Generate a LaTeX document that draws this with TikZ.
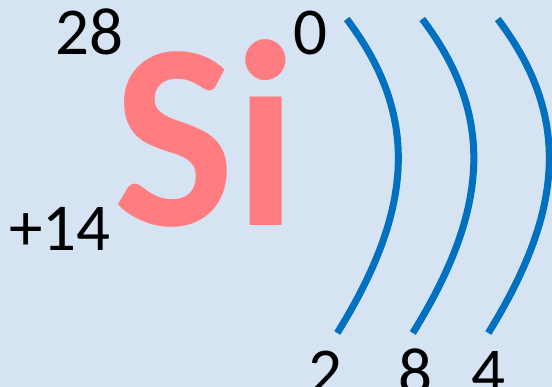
\documentclass[tikz,border=0pt]{standalone}
\usepackage{fontspec}
\setmainfont{Carlito}
\definecolor{bgblue}{RGB}{214,227,243}
\definecolor{shellblue}{RGB}{0,112,192}
\definecolor{sipink}{RGB}{255,124,128}
\begin{document}
\begin{tikzpicture}[x=1pt,y=-1pt,
  num/.style={inner sep=0pt,anchor=base west,font=\fontsize{67}{67}\selectfont,text=black},
  shell/.style={draw=shellblue,line width=7pt}]
\fill[bgblue] (0,0) rectangle (552,387);
\useasboundingbox (0,0) rectangle (552,387);
\node[num] (mass) at (55,55) {28};
\node[num] (charge) at (293,55) {0};
\node[num] (z) at (9,251) {+14};
\node[inner sep=0pt,anchor=base west,font=\bfseries\fontsize{265}{265}\selectfont,text=sipink,xscale=0.97] (si) at (113,226) {Si};
\foreach \dx/\n in {0/1,75.5/2,151/3}{
  \draw[shell] (346.7+\dx,19) .. controls (423.6+\dx,120.2) and (409.7+\dx,215.8) .. (337.3+\dx,333);
}
\node[num] (e1) at (308,395) {2};
\node[num] (e2) at (398,395) {8};
\node[num] (e3) at (471,395) {4};
\end{tikzpicture}
\end{document}
